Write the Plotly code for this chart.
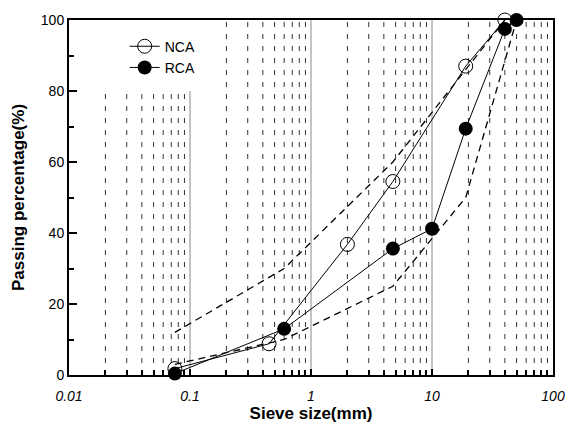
import plotly.graph_objects as go

# ---- data ----
sieve_nca = [0.075, 0.45, 2.0, 4.75, 19, 40]
pass_nca = [1.8, 8.8, 36.8, 54.5, 87, 100]

sieve_rca = [0.075, 0.6, 4.75, 10, 19, 40, 50]
pass_rca = [0.4, 13, 35.6, 41.2, 69.4, 97.5, 100]

upper_x = [0.075, 0.6, 4.75, 40]
upper_y = [12, 30, 60, 100]
lower_x = [0.075, 0.6, 4.75, 19, 50]
lower_y = [3, 10, 25, 50, 100]

decades = [0.01, 0.1, 1, 10]
x_tickvals = [0.01, 0.1, 1, 10, 100]
x_ticktext = ["0.01", "0.1", "1", "10", "100"]

FONT = "Liberation Sans Narrow, Liberation Sans, Arial"

fig = go.Figure()

# dashed minor gridlines
gx, gy = [], []
for i, d in enumerate(decades):
    top = 80 if i == 0 else 100
    for m in range(2, 10):
        gx += [d * m, d * m, None]
        gy += [0, top, None]
fig.add_trace(go.Scatter(x=gx, y=gy, mode="lines", showlegend=False, hoverinfo="skip",
                         line=dict(color="#333", width=1, dash="5px,7px")))
# solid decade gridlines
sx, sy = [], []
for i, d in enumerate(decades[1:]):
    top = 80 if i == 0 else 100
    sx += [d, d, None]
    sy += [0, top, None]
fig.add_trace(go.Scatter(x=sx, y=sy, mode="lines", showlegend=False, hoverinfo="skip",
                         line=dict(color="#888", width=1)))

# grading envelopes
for ex, ey in [(upper_x, upper_y), (lower_x, lower_y)]:
    fig.add_trace(go.Scatter(x=ex, y=ey, mode="lines", showlegend=False, hoverinfo="skip",
                             line=dict(color="black", width=1.3, dash="7px,5px")))

fig.add_trace(go.Scatter(x=sieve_nca, y=pass_nca, mode="lines+markers", name="NCA",
                         cliponaxis=False,
                         line=dict(color="black", width=1),
                         marker=dict(symbol="circle-open", size=14, color="black",
                                     line=dict(width=1))))
fig.add_trace(go.Scatter(x=sieve_rca, y=pass_rca, mode="lines+markers", name="RCA",
                         cliponaxis=False,
                         line=dict(color="black", width=1),
                         marker=dict(symbol="circle", size=14, color="black")))

minor_vals = [d * m for d in decades for m in range(2, 10)]

fig.update_layout(
    width=577, height=430,
    margin=dict(l=69, r=21, t=14, b=55),
    paper_bgcolor="white", plot_bgcolor="white",
    font=dict(family=FONT, color="black"),
    showlegend=True,
    legend=dict(x=0.115, y=0.97, xanchor="left", yanchor="top",
                bgcolor="rgba(0,0,0,0)", font=dict(size=14, family=FONT),
                tracegroupgap=0),
    xaxis=dict(type="log", range=[-2, 2], showgrid=False, zeroline=False,
               tickmode="array", tickvals=x_tickvals, ticktext=x_ticktext,
               ticks="inside", ticklen=6, tickwidth=1.5, tickcolor="black",
               ticklabelstandoff=7,
               tickfont=dict(size=14, family=FONT, style="italic"),
               minor=dict(tickmode="array", tickvals=minor_vals, ticks="inside",
                          ticklen=5, tickwidth=1.5, tickcolor="black", showgrid=False),
               showline=True, linecolor="black", linewidth=2, mirror=True,
               title=dict(text="<b>Sieve size(mm)</b>", font=dict(size=17, family=FONT),
                          standoff=2)),
    yaxis=dict(range=[0, 100], showgrid=False, zeroline=False,
               tickmode="linear", tick0=0, dtick=20,
               ticks="inside", ticklen=8, tickwidth=1.5, tickcolor="black",
               tickfont=dict(size=14, family=FONT),
               minor=dict(dtick=10, ticks="inside", ticklen=5, tickwidth=1.5,
                          tickcolor="black", showgrid=False),
               showline=True, linecolor="black", linewidth=2, mirror=True,
               title=dict(text="<b>Passing percentage(%)</b>", font=dict(size=17, family=FONT),
                          standoff=12)),
)

fig.write_html("out.html")
